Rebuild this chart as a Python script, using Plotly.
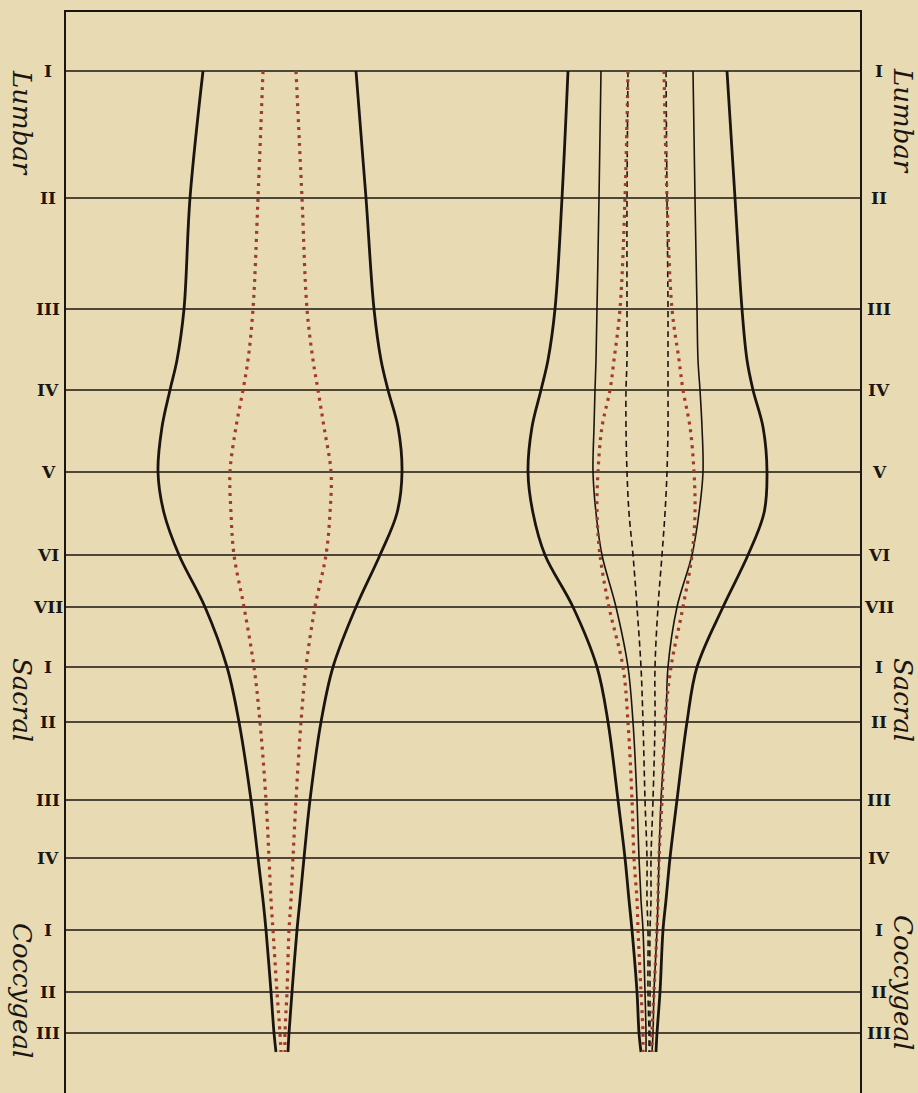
import plotly.graph_objects as go

# ---------------- data (page-pixel units) ----------------
level_y = [71, 198, 309, 390, 472, 555, 607, 667, 722, 800, 858, 930, 992, 1033]
level_text = ["I", "II", "III", "IV", "V", "VI", "VII", "I", "II", "III", "IV", "I", "II", "III"]

region_names = ["Lumbar", "Sacral", "Coccygeal"]
region_y_left = [123, 700, 990]
region_y_right = [121, 700, 982]

frame_x = [65, 861]
frame_top = 11
frame_bottom = 1100

# sample heights along the cord
cord_y = [71, 198, 309, 360, 390, 427, 472, 513, 555, 607, 667, 722, 800, 858, 900, 930, 992, 1033, 1052]

# left figure
left_outer_l = [203, 190, 184, 177, 170, 162, 158, 164, 179, 205, 227, 239, 251, 258, 263, 266, 271, 274, 276]
left_outer_r = [356, 366, 374, 381, 388, 398, 402, 397, 380, 356, 333, 321, 310, 304, 300, 297, 292, 289, 288]
left_red_l = [263, 258, 253, 248, 243, 236, 230, 231, 234, 244, 254, 260, 266, 269, 271, 273, 277, 280, 281]
left_red_r = [296, 302, 307, 313, 318, 324, 331, 330, 326, 315, 306, 301, 296, 293, 291, 289, 287, 285, 285]

# right figure
right_outer_l = [568, 562, 555, 548, 541, 532, 528, 533, 545, 573, 597, 608, 618, 625, 629, 632, 637, 639, 641]
right_outer_r = [727, 735, 742, 747, 753, 763, 767, 764, 748, 723, 697, 687, 677, 670, 666, 663, 660, 657, 656]
right_inner_l = [601, 599, 597, 596, 595, 594, 593, 596, 602, 616, 628, 633, 637, 639, 641, 643, 645, 646, 646]
right_inner_r = [693, 695, 697, 698, 700, 702, 703, 699, 692, 677, 668, 666, 661, 659, 658, 657, 654, 653, 652]
right_red_l = [628, 625, 620, 614, 610, 602, 598, 597, 600, 609, 623, 628, 632, 634, 637, 638, 641, 643, 643]
right_red_r = [664, 667, 672, 679, 683, 690, 694, 695, 692, 683, 671, 665, 662, 659, 658, 657, 654, 652, 652]
right_dash_l = [628, 627, 627, 627, 626, 626, 627, 629, 633, 637, 641, 643, 645, 647, 647, 648, 648, 649, 649]
right_dash_r = [666, 667, 668, 668, 668, 668, 667, 665, 662, 658, 655, 655, 653, 651, 651, 650, 650, 650, 650]

# ---------------- styles ----------------
BG = "#E8DAB2"
INK = "#1b1511"
RED = "#A23A2C"

fig = go.Figure()

# frame
fig.add_trace(go.Scatter(
    x=[frame_x[0], frame_x[0], frame_x[1], frame_x[1]],
    y=[frame_bottom, frame_top, frame_top, frame_bottom],
    mode="lines", line=dict(color=INK, width=2), hoverinfo="skip"))

# horizontal vertebra lines
for yv in level_y:
    fig.add_trace(go.Scatter(x=frame_x, y=[yv, yv], mode="lines",
                             line=dict(color=INK, width=1.6), hoverinfo="skip"))


def curve(xs, color, width, dash=None):
    fig.add_trace(go.Scatter(
        x=xs, y=cord_y, mode="lines",
        line=dict(color=color, width=width, shape="spline", smoothing=1.0, dash=dash),
        hoverinfo="skip"))


curve(left_outer_l, INK, 2.8)
curve(left_outer_r, INK, 2.8)
curve(left_red_l, RED, 3.2, "3px,5px")
curve(left_red_r, RED, 3.2, "3px,5px")

curve(right_outer_l, INK, 2.8)
curve(right_outer_r, INK, 2.8)
curve(right_inner_l, INK, 1.6)
curve(right_inner_r, INK, 1.6)
curve(right_dash_l, INK, 1.6, "6px,4px")
curve(right_dash_r, INK, 1.6, "6px,4px")
curve(right_red_l, RED, 3.2, "3px,5px")
curve(right_red_r, RED, 3.2, "3px,5px")

annotations = []
for yv, t in zip(level_y, level_text):
    for xv in (48, 879):
        annotations.append(dict(
            x=xv, y=yv, xref="x", yref="y", text=t, showarrow=False,
            xanchor="center", yanchor="middle",
            font=dict(family="DejaVu Serif", size=17, color=INK, weight="bold")))

for name, yl, yr in zip(region_names, region_y_left, region_y_right):
    for xv, yv in ((22, yl), (903, yr)):
        annotations.append(dict(
            x=xv, y=yv, xref="x", yref="y", text=name, showarrow=False,
            textangle=90, xanchor="center", yanchor="middle",
            font=dict(family="DejaVu Serif", size=26, color=INK, style="italic")))

fig.update_layout(
    width=918, height=1093,
    margin=dict(l=0, r=0, t=0, b=0),
    paper_bgcolor=BG, plot_bgcolor=BG,
    showlegend=False,
    xaxis=dict(range=[0, 918], visible=False, fixedrange=True),
    yaxis=dict(range=[1093, 0], visible=False, fixedrange=True),
    annotations=annotations,
)

fig.write_html(
    "out.html",
    config={"displayModeBar": False, "staticPlot": True},
    post_script="document.body.style.margin='0';document.body.style.overflow='hidden';"
                "document.body.style.background='" + BG + "';",
)
